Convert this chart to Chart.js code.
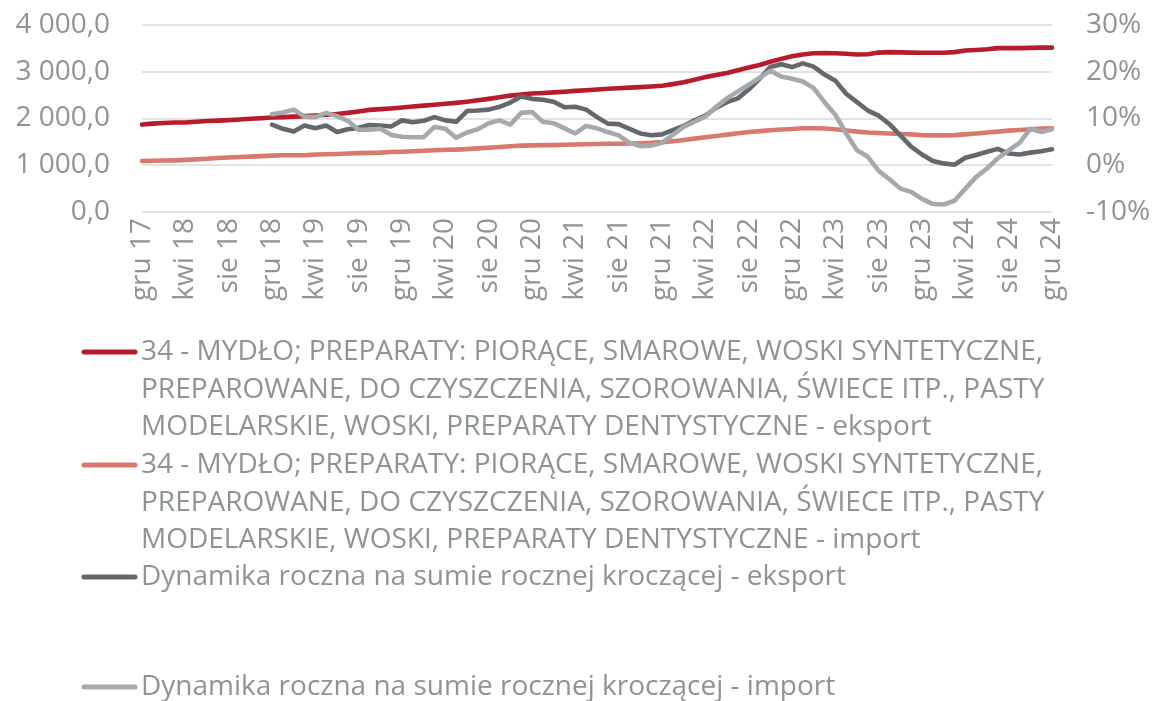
<!DOCTYPE html>
<html>
<head>
<meta charset="utf-8">
<script src="https://cdn.jsdelivr.net/npm/chart.js@4/dist/chart.umd.min.js"></script>
<style>
  html, body { margin: 0; padding: 0; background: #ffffff; }
  #wrap { width: 1155px; height: 701px; }
</style>
</head>
<body>
<div id="wrap"><canvas id="c" width="1155" height="701"></canvas></div>
<script>
// Month names used for the category axis (gru 17 ... gru 24)
const monthNames = ['sty', 'lut', 'mar', 'kwi', 'maj', 'cze', 'lip', 'sie', 'wrz', 'paź', 'lis', 'gru'];
const startYear = 17;
const monthCount = 85;
const categories = [];
for (let k = 0; k < monthCount; k++) {
  const m = (11 + k) % 12;
  const y = startYear + Math.floor((11 + k) / 12);
  categories.push(monthNames[m] + ' ' + y);
}

// Rolling annual sums, mln (left axis)
const exportValues = [
  1870, 1890, 1905, 1915, 1915, 1930, 1945, 1955, 1965, 1980, 1995, 2005,
  2020, 2030, 2040, 2050, 2065, 2080, 2095, 2120, 2150, 2185, 2200, 2215,
  2235, 2255, 2275, 2295, 2315, 2335, 2360, 2390, 2420, 2455, 2490, 2515,
  2535, 2545, 2558, 2572, 2590, 2605, 2620, 2635, 2648, 2660, 2672, 2685,
  2700, 2735, 2775, 2830, 2885, 2930, 2975, 3030, 3090, 3145, 3215, 3275,
  3330, 3370, 3395, 3400, 3395, 3385, 3370, 3375, 3410, 3420, 3415, 3410,
  3405, 3405, 3405, 3420, 3455, 3465, 3480, 3505, 3505, 3505, 3510, 3515, 3515
];
const importValues = [
  1090, 1095, 1100, 1105, 1115, 1125, 1140, 1155, 1165, 1175, 1185, 1195,
  1205, 1215, 1215, 1215, 1230, 1235, 1240, 1250, 1260, 1265, 1270, 1285,
  1290, 1300, 1310, 1320, 1330, 1335, 1345, 1360, 1375, 1390, 1405, 1420,
  1425, 1430, 1430, 1440, 1445, 1450, 1455, 1460, 1460, 1465, 1470, 1480,
  1495, 1515, 1540, 1570, 1600, 1625, 1655, 1685, 1710, 1730, 1750, 1765,
  1775, 1790, 1790, 1785, 1770, 1745, 1720, 1700, 1690, 1680, 1670, 1660,
  1645, 1640, 1640, 1645, 1660, 1680, 1700, 1720, 1740, 1755, 1770, 1785, 1790
];

// Year-on-year change of the rolling annual sum, % (right axis)
const exportDynamics = [
  null, null, null, null, null, null, null, null, null, null, null, null,
  8.7, 7.8, 7.2, 8.5, 7.9, 8.5, 7.1, 7.7, 8.0, 8.6, 8.5, 8.3,
  9.6, 9.2, 9.5, 10.3, 9.6, 9.3, 11.6, 11.7, 11.9, 12.5, 13.4, 14.7,
  14.2, 14.0, 13.6, 12.4, 12.5, 11.9, 10.3, 8.9, 8.8, 7.8, 6.8, 6.4,
  6.6, 7.5, 8.4, 9.6, 10.6, 12.3, 13.5, 14.3, 16.2, 18.5, 21.0, 21.6,
  21.0, 21.8, 21.1, 19.4, 18.1, 15.3, 13.5, 11.7, 10.6, 8.8, 6.4, 4.0,
  2.3, 0.9, 0.4, 0.1, 1.6, 2.2, 2.9, 3.5, 2.5, 2.3, 2.7, 3.0, 3.4
];
const importDynamics = [
  null, null, null, null, null, null, null, null, null, null, null, null,
  10.9, 11.3, 11.9, 10.4, 10.3, 11.2, 10.5, 9.5, 7.6, 7.6, 7.8, 6.5,
  6.1, 6.0, 6.0, 8.2, 7.8, 5.9, 7.0, 7.7, 9.0, 9.6, 8.7, 11.2,
  11.4, 9.3, 9.0, 7.9, 6.8, 8.4, 7.9, 7.1, 6.4, 4.8, 4.1, 4.2,
  4.8, 6.5, 8.2, 9.3, 10.4, 12.5, 14.3, 15.8, 17.2, 18.7, 20.2, 19.0,
  18.5, 17.9, 16.5, 13.5, 10.8, 6.8, 3.2, 1.8, -1.2, -3.0, -5.0, -5.7,
  -7.2, -8.3, -8.4, -7.6, -5.0, -2.5, -0.7, 1.5, 3.2, 4.8, 7.8, 7.1, 7.7
];

// Axis ranges and tick steps
const leftTicks = [0, 1000, 2000, 3000, 4000];
const rightTicks = [-10, 0, 10, 20, 30];

// Legend texts, broken into the lines they are printed on
const legendExport = [
  '34 - MYDŁO; PREPARATY: PIORĄCE, SMAROWE, WOSKI SYNTETYCZNE,',
  'PREPAROWANE, DO CZYSZCZENIA, SZOROWANIA, ŚWIECE ITP., PASTY',
  'MODELARSKIE, WOSKI, PREPARATY DENTYSTYCZNE - eksport'
];
const legendImport = [
  '34 - MYDŁO; PREPARATY: PIORĄCE, SMAROWE, WOSKI SYNTETYCZNE,',
  'PREPAROWANE, DO CZYSZCZENIA, SZOROWANIA, ŚWIECE ITP., PASTY',
  'MODELARSKIE, WOSKI, PREPARATY DENTYSTYCZNE - import'
];
const legendDynExport = ['Dynamika roczna na sumie rocznej kroczącej - eksport'];
const legendDynImport = ['Dynamika roczna na sumie rocznej kroczącej - import'];

const TEXT = '#8d9396';
const FONT = '"Open Sans", Lato, sans-serif';
const FONT_SIZE = 28;
const CLEAR = 'rgba(0,0,0,0)';

const COLORS = {
  exp: '#b71c2c',
  imp: '#d9796d',
  dynExp: '#62686b',
  dynImp: '#a6a9ab'
};

function formatPl(v) {
  const fixed = Math.abs(v).toFixed(1).split('.');
  const intPart = fixed[0].replace(/\B(?=(\d{3})+(?!\d))/g, ' ');
  return (v < 0 ? '-' : '') + intPart + ',' + fixed[1];
}

// Legend drawn under the axis, one marker per entry, text wrapped on given lines
const legendRows = [
  { lines: legendExport, color: COLORS.exp, y: 352 },
  { lines: legendImport, color: COLORS.imp, y: 465 },
  { lines: legendDynExport, color: COLORS.dynExp, y: 577 },
  { lines: legendDynImport, color: COLORS.dynImp, y: 687 }
];
const legendPlugin = {
  id: 'wrappedLegend',
  afterDraw(chart) {
    const ctx = chart.ctx;
    ctx.save();
    ctx.font = FONT_SIZE + 'px ' + FONT;
    ctx.textBaseline = 'middle';
    ctx.textAlign = 'left';
    legendRows.forEach(row => {
      ctx.strokeStyle = row.color;
      ctx.lineWidth = 5;
      ctx.lineCap = 'round';
      ctx.beginPath();
      ctx.moveTo(84, row.y);
      ctx.lineTo(135, row.y);
      ctx.stroke();
      ctx.fillStyle = TEXT;
      row.lines.forEach((t, j) => {
        ctx.fillText(t, 141, row.y + j * 37.6);
      });
    });
    ctx.restore();
  }
};

const lineStyle = {
  pointRadius: 0,
  pointHoverRadius: 0,
  borderWidth: 4.6,
  borderCapStyle: 'round',
  borderJoinStyle: 'round',
  tension: 0,
  fill: false
};

new Chart(document.getElementById('c'), {
  type: 'line',
  data: {
    labels: categories,
    datasets: [
      Object.assign({ label: legendExport.join(' '), data: exportValues, borderColor: COLORS.exp, yAxisID: 'y', order: 4 }, lineStyle),
      Object.assign({ label: legendImport.join(' '), data: importValues, borderColor: COLORS.imp, yAxisID: 'y', order: 3 }, lineStyle),
      Object.assign({ label: legendDynExport.join(' '), data: exportDynamics, borderColor: COLORS.dynExp, yAxisID: 'y1', order: 2 }, lineStyle),
      Object.assign({ label: legendDynImport.join(' '), data: importDynamics, borderColor: COLORS.dynImp, yAxisID: 'y1', order: 1 }, lineStyle)
    ]
  },
  options: {
    responsive: false,
    animation: false,
    devicePixelRatio: 1,
    layout: { padding: { top: 25, left: 0, right: 0, bottom: 0 } },
    plugins: {
      legend: { display: false },
      tooltip: { enabled: false }
    },
    scales: {
      x: {
        type: 'category',
        offset: false,
        grid: { display: false, drawTicks: false },
        border: { display: false },
        ticks: {
          autoSkip: false,
          maxRotation: 90,
          minRotation: 90,
          padding: 6,
          color: TEXT,
          font: { family: FONT, size: FONT_SIZE },
          callback: (v, i) => (i % 4 === 0 ? categories[i] : null)
        },
        afterFit: s => { s.height = 701 - 212; }
      },
      y: {
        position: 'left',
        min: leftTicks[0],
        max: leftTicks[leftTicks.length - 1],
        afterBuildTicks: s => { s.ticks = leftTicks.map(v => ({ value: v })); },
        grid: { color: '#e3e3e3', lineWidth: 2, drawTicks: true, tickLength: 32, tickColor: CLEAR },
        border: { display: false },
        ticks: {
          padding: 0,
          color: TEXT,
          font: { family: FONT, size: FONT_SIZE },
          callback: v => formatPl(v)
        },
        afterFit: s => { s.width = 142; }
      },
      y1: {
        position: 'right',
        min: rightTicks[0],
        max: rightTicks[rightTicks.length - 1],
        afterBuildTicks: s => { s.ticks = rightTicks.map(v => ({ value: v })); },
        grid: { display: true, drawOnChartArea: false, drawTicks: true, tickLength: 34, tickColor: CLEAR, color: CLEAR },
        border: { display: false },
        ticks: {
          padding: 0,
          color: TEXT,
          font: { family: FONT, size: FONT_SIZE },
          callback: v => Math.round(v) + '%'
        },
        afterFit: s => { s.width = 1155 - 1052; }
      }
    }
  },
  plugins: [legendPlugin]
});
</script>
</body>
</html>
